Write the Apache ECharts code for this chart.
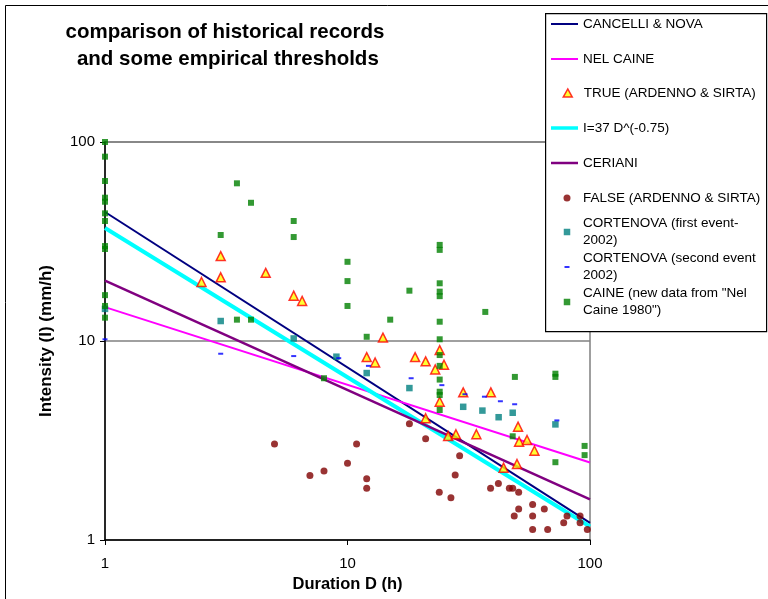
<!DOCTYPE html>
<html>
<head>
<meta charset="utf-8">
<script src="https://cdn.jsdelivr.net/npm/echarts@6/dist/echarts.min.js"></script>
<style>
  html, body { margin: 0; padding: 0; background: #fff; }
  #chart { width: 768px; height: 599px; }
</style>
</head>
<body>
<div id="chart"></div>
<script>
  const FONT = '"Liberation Sans", Arial, sans-serif'

  // threshold curves (end points read at D = 1 and D = 100)
  const cancelliNova = [[1, 44.5], [100, 1.22]]
  const nelCaine = [[1, 14.8], [100, 2.45]]
  const powerLaw37 = [[1, 37], [100, 1.17]]
  const ceriani = [[1, 20.1], [100, 1.6]]

  // historical records [duration h, intensity mm/h]
  const trueAS = [[2.5, 19.8], [3, 26.7], [3, 20.9], [4.6, 22.0], [6, 16.9], [6.5, 15.9],
    [12, 8.3], [13, 7.8], [14, 10.4], [19, 8.3], [21, 7.9], [23, 7.2], [24, 9.0], [25, 7.6],
    [24, 4.95], [21, 4.09], [30, 5.52], [39, 5.52], [26, 3.33], [28, 3.4], [34, 3.4],
    [50.5, 3.71], [51, 3.12], [55, 3.18], [59, 2.81], [44, 2.31], [50, 2.41]]

  const falseAS = [[5, 3.04], [7, 2.11], [8, 2.22], [10, 2.43], [10.9, 3.04], [12, 2.03], [12, 1.82],
    [18, 3.84], [21, 3.23], [29, 2.65], [27.8, 2.12], [23.9, 1.74], [26.7, 1.63], [38.9, 1.82],
    [41.9, 1.92], [46.5, 1.82], [48, 1.82], [50.8, 1.74], [50.8, 1.43], [48.7, 1.32], [58, 1.51],
    [58, 1.32], [64.8, 1.43], [58, 1.13], [66.9, 1.13], [80.4, 1.32], [77.9, 1.22], [91, 1.32],
    [91, 1.22], [97.5, 1.13]]

  const cortenova1 = [[1, 14.5], [3, 12.6], [6, 10.3], [9, 8.34], [12, 6.9], [18, 5.8], [30, 4.67],
    [36, 4.47], [42, 4.14], [48, 4.36], [72, 3.81]]

  const cortenova2 = [[1, 10.2], [3, 8.63], [6, 8.4], [9.2, 8.2], [12.2, 7.5], [18.3, 6.5], [24.5, 6.0],
    [30.5, 5.4], [36.7, 5.25], [42.7, 4.98], [48.9, 4.81], [73, 3.99]]

  const caine = [[1, 100], [1, 84.4], [1, 63.7], [1, 52.5], [1, 50.1], [1, 43.8], [1, 40.1], [1, 30],
    [1, 29], [1, 17], [1, 15], [1, 13.1], [3, 34.1], [3.5, 62], [4, 49.5], [6, 40.1], [6, 33.3],
    [10, 25], [10, 20], [10, 15], [3.5, 12.8], [4, 12.8], [8, 6.5], [12, 10.5], [15, 12.8], [18, 17.9],
    [24, 30.4], [24, 28.7], [24, 19.5], [24, 17.7], [24, 16.8], [24, 12.5], [24, 10.2], [24, 8.5],
    [24, 7.5], [24, 6.4], [24, 5.56], [24, 5.35], [24, 4.5], [37, 14], [49, 6.6], [72, 6.85],
    [72, 6.6], [48, 3.32], [72, 2.46], [95, 2.97], [95, 2.67]]

  const names = {
    cn: 'CANCELLI & NOVA',
    nc: 'NEL CAINE',
    tr: 'TRUE (ARDENNO & SIRTA)',
    pl: 'I=37 D^(-0.75)',
    ce: 'CERIANI',
    fa: 'FALSE (ARDENNO & SIRTA)',
    c1: 'CORTENOVA (first event-2002)',
    c2: 'CORTENOVA (second event 2002)',
    ca: 'CAINE (new data from "Nel Caine 1980")'
  }

  let lineSeries = (name, data, color, width) => ({
    name, type: 'line', data,
    symbol: 'none', silent: true, z: 2,
    lineStyle: { color, width },
    itemStyle: { color }
  })

  let scatterSeries = (name, data, symbol, symbolSize, itemStyle) => ({
    name, type: 'scatter', data,
    symbol, symbolSize, itemStyle,
    clip: false, silent: true, z: 3
  })

  // one legend component per row, so two-line rows keep the marker on the first line
  const legendRows = [
    { name: names.cn, cy: 24, line: 2, color: '#000080' },
    { name: names.nc, cy: 59, line: 2, color: '#FF00FF' },
    { name: names.tr, cy: 93, icon: 'path://M5,0L10,9L0,9Z', h: 9,
      style: { color: '#FFFF00', borderColor: '#FF0000', borderWidth: 1.5 } },
    { name: names.pl, cy: 128, line: 3.5, color: '#00FFFF' },
    { name: names.ce, cy: 163, line: 2.5, color: '#800080' },
    { name: names.fa, cy: 198, icon: 'circle', h: 7, style: { color: '#800000' } },
    { name: names.c1, cy: 232, icon: 'path://M0,0H1V1H0Z', h: 6.5, style: { color: '#008080' },
      label: 'CORTENOVA (first event-\n2002)' },
    { name: names.c2, cy: 267, icon: 'path://M0,0H5V2H0Z', h: 2, w: 5, style: { color: '#0000FF' },
      label: 'CORTENOVA (second event\n2002)' },
    { name: names.ca, cy: 302, icon: 'path://M0,0H1V1H0Z', h: 6.5, style: { color: '#008000' },
      label: 'CAINE (new data from "Nel\nCaine 1980")' }
  ]

  const textLeft = 583

  let legends = legendRows.map(r => {
    let twoLines = !!r.label
    let item, left, iw, ih
    if (r.line) {
      iw = 27
      ih = r.line
      left = 551
      item = { name: r.name, icon: `path://M0,0H27V${r.line}H0Z`, itemStyle: { color: r.color, borderWidth: 0 } }
    } else {
      iw = r.w || r.h
      ih = r.h
      left = 567 - iw / 2
      item = { name: r.name, icon: r.icon, itemStyle: r.style }
    }
    let padLeft = Math.max(0, textLeft - (left + iw + 5))
    let lg = {
      left,
      top: twoLines ? r.cy - 25.5 : r.cy - 8.5,
      padding: 0,
      itemWidth: iw,
      itemHeight: ih,
      selectedMode: false,
      z: 5,
      textStyle: {
        fontFamily: FONT, fontSize: 13.5, color: '#000', lineHeight: 17,
        padding: [twoLines ? 17 : 0, 0, 0, padLeft]
      },
      data: [item]
    }
    if (twoLines) lg.formatter = () => r.label
    return lg
  })

  let option = {
    animation: false,
    backgroundColor: '#fff',
    textStyle: { fontFamily: FONT },
    title: {
      text: 'comparison of historical records\n and some empirical thresholds',
      left: 225,
      top: 19,
      padding: 0,
      textAlign: 'center',
      textStyle: { fontFamily: FONT, fontSize: 20.5, fontWeight: 'bold', color: '#000', lineHeight: 27 }
    },
    legend: legends,
    grid: {
      left: 105, right: 178, top: 142, bottom: 59,
      show: true, borderColor: '#808080', borderWidth: 1.5, backgroundColor: '#fff'
    },
    xAxis: {
      type: 'log', logBase: 10, min: 1, max: 100,
      name: 'Duration D (h)', nameLocation: 'middle', nameGap: 35,
      nameTextStyle: { fontFamily: FONT, fontSize: 16.5, fontWeight: 'bold', color: '#000' },
      axisLine: { onZero: false, lineStyle: { color: '#000', width: 1.5 } },
      axisTick: { show: true, length: 5, lineStyle: { color: '#000', width: 1 } },
      axisLabel: { fontFamily: FONT, fontSize: 15, color: '#000', margin: 16 },
      splitLine: { show: false }
    },
    yAxis: {
      type: 'log', logBase: 10, min: 1, max: 100,
      name: 'Intensity (I) (mm/h)', nameLocation: 'middle', nameGap: 50,
      nameTextStyle: { fontFamily: FONT, fontSize: 17, fontWeight: 'bold', color: '#000' },
      axisLine: { onZero: false, lineStyle: { color: '#000', width: 1.5 } },
      axisTick: { show: true, length: 5, lineStyle: { color: '#000', width: 1 } },
      axisLabel: { fontFamily: FONT, fontSize: 15, color: '#000', margin: 10 },
      splitLine: { show: true, lineStyle: { color: '#808080', width: 1.5 } }
    },
    graphic: [
      { type: 'rect', z: 4, left: 545, top: 13, shape: { width: 221, height: 318 },
        style: { fill: '#fff', stroke: '#000', lineWidth: 1.2 } },
      { type: 'rect', z: 10, left: 3, top: 3, shape: { width: 764, height: 594 },
        style: { fill: 'none', stroke: '#000', lineWidth: 1 } }
    ],
    series: [
      lineSeries(names.cn, cancelliNova, '#000080', 2),
      lineSeries(names.nc, nelCaine, '#FF00FF', 2),
      scatterSeries(names.tr, trueAS, 'triangle', 9,
        { color: '#FFFF00', borderColor: '#FF0000', borderWidth: 1.5 }),
      lineSeries(names.pl, powerLaw37, '#00FFFF', 4),
      lineSeries(names.ce, ceriani, '#800080', 2.5),
      scatterSeries(names.fa, falseAS, 'circle', 7, { color: '#800000' }),
      scatterSeries(names.c1, cortenova1, 'rect', 6.5, { color: '#008080' }),
      scatterSeries(names.c2, cortenova2, 'rect', [5, 2], { color: '#0000FF' }),
      scatterSeries(names.ca, caine, 'rect', 6, { color: '#008000' })
    ]
  }

  let chart = echarts.init(document.getElementById('chart'), null, { renderer: 'canvas' })
  chart.setOption(option)
</script>
</body>
</html>
